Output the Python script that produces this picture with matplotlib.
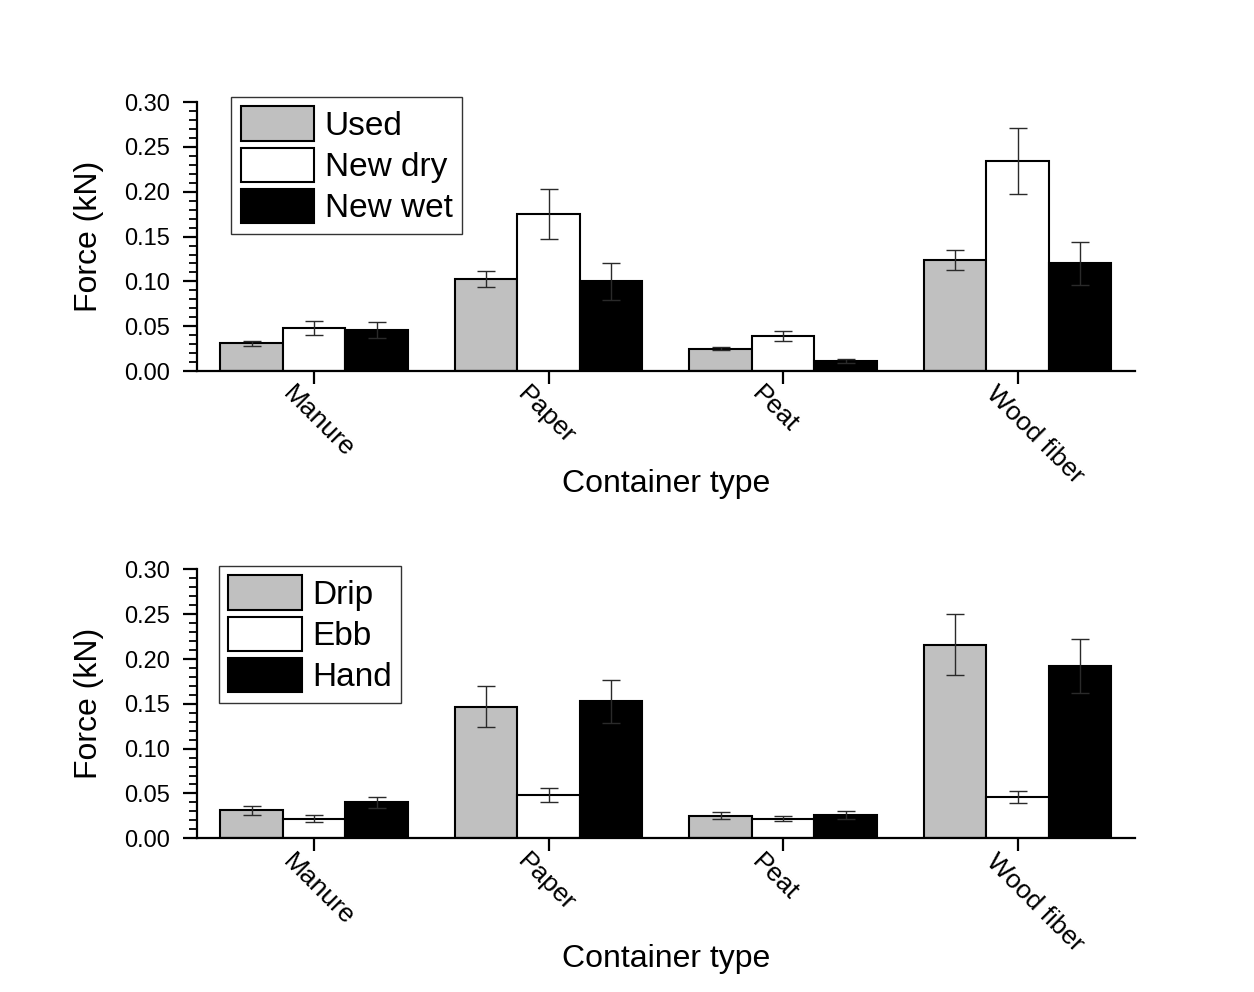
import matplotlib
matplotlib.use("Agg")
import matplotlib.pyplot as plt
import matplotlib.transforms as mtransforms
import numpy as np

plt.rcParams['font.family'] = ['Liberation Sans', 'DejaVu Sans']

containers = ["Manure", "Paper", "Peat", "Wood fiber"]

# top panel: container condition
cond_labels = ["Used", "New dry", "New wet"]
used = [0.031, 0.103, 0.025, 0.124]
used_err = [0.003, 0.009, 0.002, 0.011]
new_dry = [0.048, 0.175, 0.039, 0.234]
new_dry_err = [0.008, 0.028, 0.006, 0.037]
new_wet = [0.046, 0.100, 0.011, 0.120]
new_wet_err = [0.009, 0.021, 0.002, 0.024]

# bottom panel: irrigation method
irr_labels = ["Drip", "Ebb", "Hand"]
drip = [0.031, 0.147, 0.025, 0.216]
drip_err = [0.005, 0.023, 0.004, 0.034]
ebb = [0.022, 0.048, 0.022, 0.046]
ebb_err = [0.004, 0.008, 0.003, 0.007]
hand = [0.040, 0.153, 0.026, 0.192]
hand_err = [0.006, 0.024, 0.004, 0.030]

fills = ["#c0c0c0", "white", "black"]
width = 0.8 / 3


def draw_panel(ax, series, errors, labels, legend_anchor, xlabel_y):
    x = np.arange(len(containers))
    for k, (vals, errs) in enumerate(zip(series, errors)):
        ax.bar(x + (k - 1) * width, vals, width, color=fills[k],
               edgecolor="black", linewidth=1.5, label=labels[k], zorder=2)
        ax.errorbar(x + (k - 1) * width, vals, yerr=errs, fmt="none",
                    ecolor="#2a2a2a", elinewidth=1.0, capsize=6.5,
                    capthick=1.0, zorder=3)

    ax.set_xlim(-0.5, 3.5)
    ax.set_ylim(0, 0.30)
    ax.set_yticks(np.arange(0, 0.301, 0.05))
    ax.set_yticks(np.arange(0, 0.301, 0.01), minor=True)
    ax.yaxis.set_major_formatter(matplotlib.ticker.FormatStrFormatter("%.2f"))
    ax.set_xticks(x)
    ax.tick_params(axis="x", labelbottom=False)

    # slanted container names, starting a little left of each tick
    name_trans = (ax.get_xaxis_transform()
                  + mtransforms.ScaledTranslation(-0.19, -0.11,
                                                  ax.figure.dpi_scale_trans))
    for xi, name in zip(x, containers):
        ax.text(xi, 0, name, transform=name_trans, rotation=-45,
                rotation_mode="anchor", ha="left", va="top", fontsize=19)

    for side in ("top", "right"):
        ax.spines[side].set_visible(False)
    for side in ("left", "bottom"):
        ax.spines[side].set_linewidth(1.6)

    ax.tick_params(axis="y", which="major", direction="out", length=10,
                   width=1.6, labelsize=17, pad=9.5)
    ax.tick_params(axis="y", which="minor", direction="out", length=5.8,
                   width=1.3)
    ax.tick_params(axis="x", which="major", direction="out", length=9.5,
                   width=1.6)

    ax.set_ylabel("Force (kN)", fontsize=23)
    ax.yaxis.set_label_coords(-0.099, 0.5)
    ax.set_xlabel("Container type", fontsize=23, va="baseline")
    ax.xaxis.set_label_coords(0.5, xlabel_y)

    leg = ax.legend(loc="upper left", bbox_to_anchor=legend_anchor,
                    bbox_transform=ax.figure.transFigure, borderaxespad=0,
                    fontsize=24, frameon=True, fancybox=False,
                    edgecolor="black", handlelength=2.2, handleheight=1.22,
                    labelspacing=0.17, handletextpad=0.32, borderpad=0.28)
    leg.get_frame().set_linewidth(1.0)
    for h in leg.legend_handles:
        h.set_linewidth(1.5)


fig = plt.figure(figsize=(12.54, 9.92), dpi=100)
ax_top = fig.add_axes([0.157, 0.626, 0.748, 0.271])
ax_bot = fig.add_axes([0.157, 0.155, 0.748, 0.271])

draw_panel(ax_top, [used, new_dry, new_wet],
           [used_err, new_dry_err, new_wet_err], cond_labels,
           (0.1845, 0.9022), -0.449)
draw_panel(ax_bot, [drip, ebb, hand], [drip_err, ebb_err, hand_err],
           irr_labels, (0.1746, 0.4294), -0.478)

fig.savefig("out.png", dpi=100)
